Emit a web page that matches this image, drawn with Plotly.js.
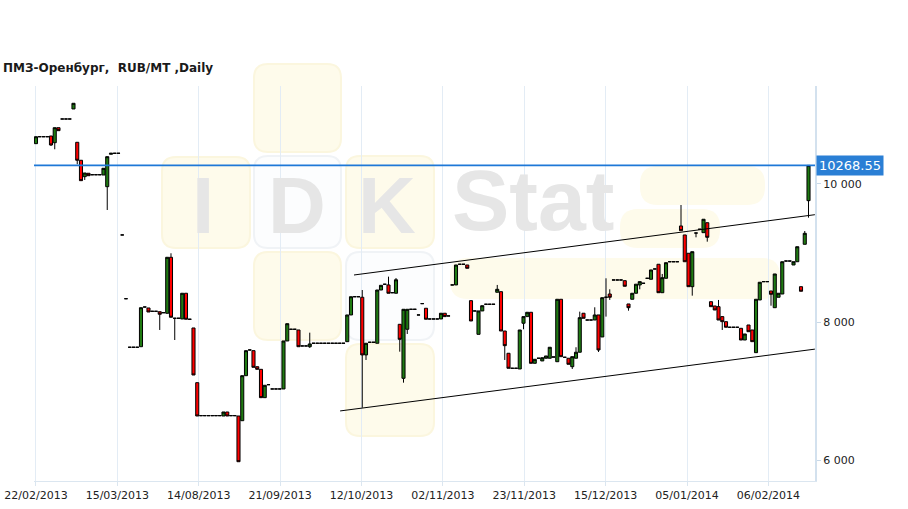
<!DOCTYPE html>
<html><head><meta charset="utf-8">
<script src="https://cdn.plot.ly/plotly-3.0.1.min.js"></script>
<style>html,body{margin:0;padding:0;background:#fff;}#chart{width:908px;height:509px;}</style>
</head><body><div id="chart"></div>
<script>
const chartTitle = 'ПМЗ-Оренбург,  RUB/MT ,Daily';
const xTickLabels = ['22/02/2013','15/03/2013','14/08/2013','21/09/2013','12/10/2013','02/11/2013','23/11/2013','15/12/2013','05/01/2014','06/02/2014'];
const yTickValues = [6000, 8000, 10000];
const yTickLabels = ['6 000', '8 000', '10 000'];
const lastPrice = 10268.55;

const openP = [
10583,10684,10684,10684,10694,10597,10814,10940,10940,10940,
11085,10603,10343,10106,10155,10134,10134,10134,10130,9961,
10430,10444,10444,9263,8341,7639,7639,7639,7647,8221,
8207,8159,8159,8153,8139,8130,8940,8058,8058,8048,
8420,8044,7918,7127,6650,6650,6650,6650,6650,6650,
6645,6703,6650,6650,6645,6577,7228,7600,7590,7358,
7320,6910,7098,7036,7036,7036,7036,7730,7899,7899,
7889,7658,7658,7647,7697,7697,7697,7697,7697,7697,
7697,7697,7697,7720,8106,8370,8370,8362,7528,7711,
7711,7697,8467,8550,8540,8428,8420,7971,7190,7899,
8188,8188,8106,8270,8203,8048,8048,8048,8048,8131,
8092,8540,8540,8839,8839,8829,8313,8164,7826,8164,
8261,8261,8261,8434,8443,7874,7552,7335,7335,7325,
7986,8082,8145,7407,7480,7441,7480,7480,7498,7430,
8333,7494,7480,7358,7480,7567,8131,8033,8033,8033,
8106,7788,8362,8409,8612,8612,8612,8602,8265,8333,
8420,8540,8564,8636,8622,8771,8839,8428,8636,8876,
8876,8876,9393,9263,8998,8515,9291,9345,9296,9440,
8298,8236,8226,8082,8009,7928,7928,7928,7913,7744,
7961,7889,7561,8323,8588,8588,8453,8211,8362,8409,
8886,8886,8829,8876,8515,9128,9759];

const highP = [
10684,10684,10684,10684,10694,10814,10814,10940,10940,10940,
11167,10603,10343,10159,10155,10134,10134,10134,10227,10395,
10444,10444,10444,9263,8341,7639,7639,7639,8211,8221,
8207,8159,8159,8153,8139,8940,8998,8058,8058,8420,
8420,8044,7918,7127,6650,6650,6650,6650,6650,6650,
6703,6703,6650,6650,6645,7228,7590,7600,7590,7358,
7320,7089,7098,7036,7036,7036,7730,7980,7899,7899,
7889,7658,7658,7850,7697,7697,7697,7697,7697,7697,
7697,7697,7697,8106,8370,8370,8370,8467,7697,7711,
7711,8467,8535,8550,8660,8428,8640,7971,8188,8188,
8188,8188,8106,8270,8203,8048,8048,8048,8131,8131,
8092,8540,8829,8839,8839,8829,8313,8164,8164,8240,
8261,8261,8261,8540,8443,7874,7552,7335,7335,7889,
8082,8145,8145,7465,7480,7488,7513,7639,7498,8333,
8333,7494,7480,7503,7639,8154,8131,8033,8033,8217,
8106,8356,8636,8477,8612,8612,8612,8602,8265,8420,
8551,8588,8564,8636,8757,8771,8839,8699,8862,8876,
8876,8876,9696,9263,8998,9021,9291,9345,9490,9440,
8298,8236,8323,8082,8009,7928,7928,7928,7913,7831,
7961,7889,8333,8579,8588,8588,8453,8699,8420,8876,
8886,8886,8876,9093,8515,9320,10268.55];

const lowP = [
10583,10684,10684,10684,10550,10502,10771,10940,10940,10940,
11085,10285,10048,10058,10120,10134,10134,10134,10130,9624,
10430,10444,10444,9263,8341,7639,7639,7639,7647,8221,
8149,8159,8159,7889,8139,8130,8073,7744,8058,8048,
8044,8044,7238,6645,6650,6650,6650,6650,6650,6650,
6645,6645,6650,6650,5984,6577,7228,7600,7349,7320,
6910,6910,7098,7036,7036,7036,7036,7730,7899,7899,
7647,7658,7658,7629,7697,7697,7697,7697,7697,7697,
7697,7697,7697,7720,8106,8370,8370,6765,7455,7711,
7711,7697,8467,8550,8420,8428,8420,7575,7127,7831,
8188,8188,8106,8270,8044,8048,8048,8048,8048,8082,
8092,8540,8540,8839,8839,8781,8019,8164,7826,8164,
8261,8261,8261,8434,7874,7455,7335,7335,7335,7325,
7899,8082,7407,7407,7480,7441,7480,7480,7498,7430,
7503,7494,7393,7325,7480,7567,8058,8033,8033,8033,
7571,7788,8082,8323,8612,8612,8612,8521,8168,8333,
8420,8477,8564,8636,8622,8771,8428,8428,8636,8876,
8876,8876,9325,8876,8515,8385,9229,9345,9296,9166,
8226,8178,8033,7889,7928,7928,7928,7928,7744,7744,
7864,7720,7561,8323,8588,8588,8240,8211,8362,8409,
8886,8886,8829,8876,8449,9128,9513];

const closeP = [
10684,10684,10684,10684,10564,10814,10771,10940,10940,10940,
11167,10343,10048,10159,10120,10134,10134,10134,10227,10395,
10444,10444,10444,9263,8341,7639,7639,7639,8211,8221,
8149,8159,8159,8116,8139,8940,8073,8058,8058,8420,
8044,8044,7238,6645,6650,6650,6650,6650,6650,6650,
6703,6645,6650,6650,5984,7228,7590,7600,7349,7320,
6910,7089,7098,7036,7036,7036,7730,7980,7899,7899,
7647,7658,7658,7687,7697,7697,7697,7697,7697,7697,
7697,7697,7697,8106,8370,8370,8370,7528,7697,7711,
7711,8467,8535,8550,8420,8428,8615,7754,8188,8188,
8188,8188,8106,8270,8044,8048,8048,8048,8131,8082,
8092,8540,8829,8839,8839,8781,8019,8164,8164,8240,
8261,8261,8261,8477,7874,7662,7335,7335,7335,7889,
8082,8145,7407,7465,7480,7488,7513,7639,7498,8333,
7503,7494,7393,7503,7567,8067,8058,8033,8033,8106,
7600,8356,8362,8362,8612,8612,8612,8521,8211,8420,
8551,8588,8564,8636,8757,8771,8428,8645,8862,8876,
8876,8876,9325,8876,8515,9021,9291,9345,9490,9229,
8226,8178,8033,8009,7928,7928,7928,7928,7744,7831,
7864,7720,8333,8579,8588,8588,8405,8699,8420,8876,
8886,8886,8876,9093,8449,9287,10268.55];

// channel lines (x = bar index, y = price)
const upperChannelX = [84.8, 207.7];
const upperChannelY = [8684, 9556];
const lowerChannelX = [81.1, 207.7];
const lowerChannelY = [6718, 7612];

const barIndex = closeP.map((_, i) => i);
const X_RANGE = [-0.53, 207.73];

const traces = [
  {
    type: 'candlestick', x: barIndex, open: openP, high: highP, low: lowP, close: closeP,
    increasing: {line: {color: '#000000', width: 1}, fillcolor: '#1f7a12'},
    decreasing: {line: {color: '#000000', width: 1}, fillcolor: '#ff0000'},
    whiskerwidth: 0, hoverinfo: 'skip', showlegend: false
  },
  {type: 'scatter', mode: 'lines', x: upperChannelX, y: upperChannelY,
   line: {color: '#000000', width: 1}, hoverinfo: 'skip', showlegend: false},
  {type: 'scatter', mode: 'lines', x: lowerChannelX, y: lowerChannelY,
   line: {color: '#000000', width: 1}, hoverinfo: 'skip', showlegend: false},
  {type: 'scatter', mode: 'lines', x: X_RANGE, y: [lastPrice, lastPrice],
   line: {color: 'rgb(30,120,215)', width: 1.6}, hoverinfo: 'skip', showlegend: false}
];

// plot-area pixel geometry
const PL = 34, PR = 815, PT = 86, PB = 481;
const px = x => (x - PL) / (PR - PL);
const py = y => (PB - y) / (PB - PT);
function rrect(x0, y0, x1, y1, r, fill, line) {
  const X0 = px(x0), X1 = px(x1), Y0 = py(y0), Y1 = py(y1);
  const rx = r / (PR - PL), ry = r / (PB - PT);
  const path = `M ${X0 + rx},${Y0} L ${X1 - rx},${Y0} Q ${X1},${Y0} ${X1},${Y0 - ry} L ${X1},${Y1 + ry} Q ${X1},${Y1} ${X1 - rx},${Y1} L ${X0 + rx},${Y1} Q ${X0},${Y1} ${X0},${Y1 + ry} L ${X0},${Y0 - ry} Q ${X0},${Y0} ${X0 + rx},${Y0} Z`;
  return {type: 'path', xref: 'paper', yref: 'paper', path, fillcolor: fill,
          line: {color: line || fill, width: line ? 2 : 0}, layer: 'below'};
}
const yel = '#fefbeb', yelEdge = '#fbf6de', wht = '#fcfdfe', whtEdge = '#f0f3f6';
const shapes = [
  rrect(254, 64, 341, 152, 14, yel, yelEdge),
  rrect(162, 157, 250, 248, 14, yel, yelEdge),
  rrect(254, 156, 341, 248, 14, wht, whtEdge),
  rrect(346, 156, 434, 248, 14, yel, yelEdge),
  rrect(254, 252, 341, 340, 14, yel, yelEdge),
  rrect(346, 252, 434, 340, 14, wht, whtEdge),
  rrect(346, 344, 434, 436, 14, yel, yelEdge),
  rrect(640, 166, 765, 205, 18, yel),
  rrect(620, 209, 720, 248, 18, yel),
  rrect(450, 258, 780, 299, 18, yel)
];

const wm = (text, x, y, size) => ({text, xref: 'paper', yref: 'paper', x: px(x), y: py(y),
  xanchor: 'left', yanchor: 'middle', showarrow: false,
  font: {family: 'Liberation Sans', size, color: '#e6e6e6', weight: 'bold'}});

const annotations = [
  wm('I', 190, 205, 80),
  wm('D', 266, 205, 80),
  wm('K', 356, 205, 80),
  wm('Stat', 450, 200, 86),
  {text: lastPrice.toFixed(2), xref: 'paper', yref: 'y', x: 1, y: lastPrice,
   xanchor: 'left', yanchor: 'middle', xshift: 1, showarrow: false,
   bgcolor: '#2a7fd5', borderpad: 2,
   font: {family: 'DejaVu Sans', size: 13, color: '#ffffff'}}
];

const layout = {
  width: 908, height: 509,
  margin: {l: PL, r: 908 - PR, t: PT, b: 509 - PB},
  paper_bgcolor: '#ffffff', plot_bgcolor: 'rgba(0,0,0,0)',
  showlegend: false,
  font: {family: 'DejaVu Sans', size: 11, color: '#222222'},
  boxgap: 0.18, boxgroupgap: 0,
  title: {text: chartTitle, xref: 'container', yref: 'container', x: 3 / 908, xanchor: 'left',
          y: 1 - 68 / 509, yanchor: 'middle',
          font: {family: 'DejaVu Sans', size: 12, color: '#1a1a1a', weight: 'bold'}},
  xaxis: {
    type: 'linear', range: X_RANGE, fixedrange: true,
    rangeslider: {visible: false},
    tickvals: xTickLabels.map((_, k) => k * 21.7), ticktext: xTickLabels,
    showgrid: true, gridcolor: '#e3ecf5', gridwidth: 1,
    showline: true, linecolor: '#dbe6f0', linewidth: 1,
    ticks: 'outside', ticklen: 4, tickcolor: '#dbe6f0',
    zeroline: false, tickfont: {family: 'DejaVu Sans', size: 11, color: '#222222'}
  },
  yaxis: {
    side: 'right', range: [5705, 11417], fixedrange: true,
    tickvals: yTickValues, ticktext: yTickLabels,
    showgrid: false, zeroline: false,
    showline: true, linecolor: '#d3e1ee', linewidth: 2,
    ticks: 'outside', ticklen: 4, tickcolor: '#c9d9e8',
    tickfont: {family: 'DejaVu Sans', size: 11, color: '#222222'}
  },
  shapes, annotations
};

Plotly.newPlot('chart', traces, layout, {staticPlot: true, displayModeBar: false});
</script>
</body></html>
